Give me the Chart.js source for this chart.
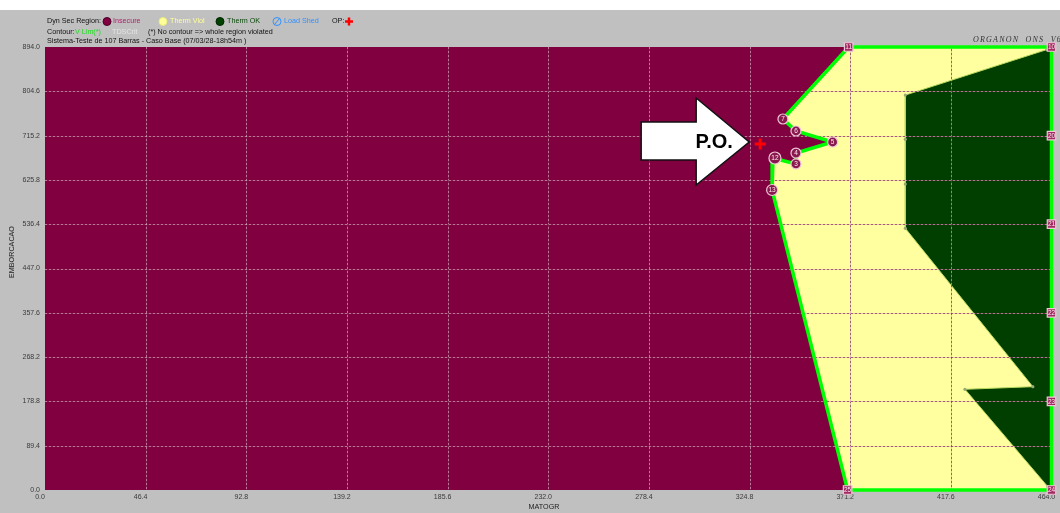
<!DOCTYPE html>
<html>
<head>
<meta charset="utf-8">
<title>Dyn Sec Region</title>
<script src="https://cdn.jsdelivr.net/npm/chart.js@4.4.1/dist/chart.umd.min.js"></script>
<style>
  html, body { margin: 0; padding: 0; background: #fff; }
  #wrap { width: 1060px; height: 513px; }
</style>
</head>
<body>
<div id="wrap"><canvas id="grafico" width="1060" height="513"></canvas></div>
<script>
// valores dos eixos
const xTicks = [0.0, 46.4, 92.8, 139.2, 185.6, 232.0, 278.4, 324.8, 371.2, 417.6, 464.0];
const yTicks = [0.0, 89.4, 178.8, 268.2, 357.6, 447.0, 536.4, 625.8, 715.2, 804.6, 894.0];

// contorno da regiao segura (Therm Viol), limite V Lim
const contornoX = [370.5, 340.2, 346.2, 363.1, 346.2, 346.2, 335.6, 335.2, 370.0, 464.0, 464.0, 370.5];
const contornoY = [894.0, 748.7, 724.5, 702.3, 680.0, 658.0, 670.0, 605.4, 0.0, 0.0, 894.0, 894.0];

// regiao Therm OK
const termOkX = [462.0, 396.6, 396.6, 396.6, 396.6, 455.4, 424.1, 462.3, 464.0, 464.0, 462.0];
const termOkY = [889.0, 797.0, 707.7, 617.5, 528.1, 208.5, 203.2, 6.7, 6.7, 891.0, 889.0];

// pontos numerados (circulos) no contorno
const numRotulos = ['7', '6', '5', '4', '3', '12', '13'];
const numX = [340.2, 346.2, 363.1, 346.2, 346.2, 336.5, 335.2];
const numY = [748.7, 724.5, 702.3, 680.0, 658.0, 670.0, 605.4];

// pontos numerados (quadrados) na borda
const bordaRotulos = ['11', '10', '20', '21', '22', '23', '24', '25'];
const bordaX = [370.5, 464.0, 464.0, 464.0, 464.0, 464.0, 464.0, 370.0];
const bordaY = [894.0, 894.0, 715.2, 536.4, 357.6, 178.8, 0.0, 0.0];

// ponto de operacao
const poX = [329.7];
const poY = [698.3];

const pares = (xs, ys) => xs.map((v, i) => ({ x: v, y: ys[i] }));

const FONTE = '"Liberation Sans", Arial, sans-serif';

// fundo cinza + area do grafico em vinho (Insecure)
const fundo = {
  id: 'fundo',
  beforeDraw(chart) {
    const { ctx, chartArea: a, width, height } = chart;
    ctx.save();
    ctx.fillStyle = '#c0c0c0';
    ctx.fillRect(0, 10, width, height - 10);
    ctx.fillStyle = '#800040';
    ctx.fillRect(a.left, a.top, a.right - a.left, a.bottom - a.top);
    ctx.restore();
  }
};

// grade pontilhada por cima das regioes
const grade = {
  id: 'grade',
  afterDatasetDraw(chart, args) {
    if (args.index !== 1) return;
    const { ctx, chartArea: a, scales: { x, y } } = chart;
    ctx.save();
    ctx.lineWidth = 1;
    const linha = (x1, y1, x2, y2) => {
      ctx.setLineDash([2, 2]);
      ctx.lineDashOffset = 0;
      ctx.strokeStyle = 'rgba(220,165,190,0.7)';
      ctx.beginPath(); ctx.moveTo(x1, y1); ctx.lineTo(x2, y2); ctx.stroke();
      ctx.lineDashOffset = 2;
      ctx.strokeStyle = 'rgba(130,45,85,0.75)';
      ctx.beginPath(); ctx.moveTo(x1, y1); ctx.lineTo(x2, y2); ctx.stroke();
    };
    xTicks.slice(1, -1).forEach(v => {
      const px = Math.round(x.getPixelForValue(v)) + 0.5;
      linha(px, a.top, px, a.bottom);
    });
    yTicks.slice(1, -1).forEach(v => {
      const py = Math.round(y.getPixelForValue(v)) + 0.5;
      linha(a.left, py, a.right, py);
    });
    ctx.restore();
  }
};

// rotulos dos pontos, seta do P.O. e cabecalho
const textos = {
  id: 'textos',
  afterDatasetsDraw(chart) {
    const { ctx, scales: { x, y } } = chart;
    ctx.save();
    ctx.textAlign = 'center';
    ctx.textBaseline = 'middle';
    ctx.font = '6.5px ' + FONTE;
    ctx.fillStyle = '#ffe8f0';
    chart.getDatasetMeta(3).data.forEach((p, i) => ctx.fillText(numRotulos[i], p.x, p.y + 0.5));
    chart.getDatasetMeta(4).data.forEach((p, i) => ctx.fillText(bordaRotulos[i], p.x, p.y + 0.5));

    // seta P.O.
    const tx = x.getPixelForValue(poX[0]) - 11;
    const ty = y.getPixelForValue(poY[0]) - 2;
    ctx.beginPath();
    ctx.moveTo(tx, ty);
    ctx.lineTo(tx - 53, ty - 44);
    ctx.lineTo(tx - 53, ty - 20);
    ctx.lineTo(tx - 108, ty - 20);
    ctx.lineTo(tx - 108, ty + 18);
    ctx.lineTo(tx - 53, ty + 18);
    ctx.lineTo(tx - 53, ty + 43);
    ctx.closePath();
    ctx.fillStyle = '#ffffff';
    ctx.fill();
    ctx.lineWidth = 1.5;
    ctx.strokeStyle = '#111';
    ctx.stroke();
    ctx.fillStyle = '#000';
    ctx.font = 'bold 20px ' + FONTE;
    ctx.fillText('P.O.', tx - 35, ty + 1);
    ctx.restore();
  },
  afterDraw(chart) {
    const { ctx } = chart;
    ctx.save();
    ctx.textBaseline = 'middle';
    ctx.textAlign = 'left';
    ctx.font = '7.2px ' + FONTE;
    const txt = (s, px, py, cor) => { ctx.fillStyle = cor; ctx.fillText(s, px, py); };
    const bola = (px, py, cor, borda) => {
      ctx.beginPath(); ctx.arc(px, py, 4, 0, Math.PI * 2);
      ctx.fillStyle = cor; ctx.fill();
      ctx.lineWidth = 1; ctx.strokeStyle = borda; ctx.stroke();
    };
    // linha 1 - legenda
    txt('Dyn Sec Region:', 47, 21.5, '#111');
    bola(107, 21.5, '#800040', '#500028');
    txt('Insecure', 113, 21.5, '#b0206a');
    bola(163, 21.5, '#ffff99', '#e8e880');
    txt('Therm Viol', 170, 21.5, '#ffff99');
    bola(220, 21.5, '#004000', '#002800');
    txt('Therm OK', 227, 21.5, '#0a4a0a');
    ctx.beginPath(); ctx.arc(277, 21.5, 4, 0, Math.PI * 2);
    ctx.lineWidth = 1; ctx.strokeStyle = '#3090ff'; ctx.stroke();
    ctx.beginPath(); ctx.moveTo(274.5, 24.5); ctx.lineTo(279.5, 18.5); ctx.stroke();
    txt('Load Shed', 284, 21.5, '#3090ff');
    txt('OP:', 332, 21.5, '#111');
    ctx.lineWidth = 2.5; ctx.strokeStyle = '#ff0000';
    ctx.beginPath();
    ctx.moveTo(349, 17.5); ctx.lineTo(349, 25.5);
    ctx.moveTo(345, 21.5); ctx.lineTo(353, 21.5);
    ctx.stroke();
    // linha 2
    txt('Contour:', 47, 32.5, '#111');
    txt('V Lim(*)', 75, 32.5, '#22dd22');
    txt('TDSCrit', 112, 32.5, '#e4e4e4');
    txt('(*) No contour => whole region violated', 148, 32.5, '#111');
    // linha 3
    txt('Sistema-Teste de 107 Barras - Caso Base (07/03/28-18h54m )', 47, 41.5, '#111');
    // assinatura
    ctx.font = 'italic 8px "Liberation Serif", serif';
    ctx.letterSpacing = '1.2px';
    txt('ORGANON  ONS  V6.', 973, 39.5, '#333');
    ctx.letterSpacing = '0px';
    // titulos dos eixos
    ctx.font = '7.2px ' + FONTE;
    ctx.textAlign = 'center';
    txt('MATOGR', 544, 507.5, '#222');
    ctx.translate(12, 252);
    ctx.rotate(-Math.PI / 2);
    txt('EMBORCACAO', 0, 0, '#222');
    ctx.restore();
  }
};

const ctx = document.getElementById('grafico').getContext('2d');
new Chart(ctx, {
  type: 'scatter',
  data: {
    datasets: [
      {
        // Therm Viol (amarelo)
        data: pares(contornoX, contornoY),
        showLine: true,
        fill: 'shape',
        backgroundColor: '#ffffa0',
        borderWidth: 0,
        pointRadius: 0,
        order: 10
      },
      {
        // Therm OK (verde escuro)
        data: pares(termOkX, termOkY),
        showLine: true,
        fill: 'shape',
        backgroundColor: '#003f00',
        borderColor: '#b8d860',
        borderWidth: 1,
        pointRadius: 1.6,
        pointBackgroundColor: '#98a878',
        pointBorderWidth: 0,
        order: 9
      },
      {
        // contorno V Lim
        data: pares(contornoX, contornoY),
        showLine: true,
        fill: false,
        borderColor: '#00ff00',
        borderWidth: 3.5,
        pointRadius: 0,
        clip: false,
        order: 8
      },
      {
        data: pares(numX, numY),
        pointStyle: 'circle',
        pointRadius: [5, 5, 5, 5, 5, 6, 5.5],
        backgroundColor: '#8a1a4e',
        borderColor: '#f0c8d8',
        borderWidth: 1.2,
        clip: false,
        order: 3
      },
      {
        data: pares(bordaX, bordaY),
        pointStyle: 'rect',
        pointRadius: 6,
        backgroundColor: '#a02a62',
        borderColor: '#f0c8d8',
        borderWidth: 1.2,
        clip: false,
        order: 2
      },
      {
        // ponto de operacao
        data: pares(poX, poY),
        pointStyle: 'cross',
        pointRadius: 5.5,
        borderColor: '#ff0000',
        borderWidth: 3,
        clip: false,
        order: 1
      }
    ]
  },
  options: {
    responsive: false,
    animation: false,
    devicePixelRatio: 1,
    events: [],
    layout: { padding: { top: 47, right: 3, left: 0, bottom: 0 } },
    plugins: {
      legend: { display: false },
      tooltip: { enabled: false }
    },
    scales: {
      x: {
        type: 'linear',
        min: 0,
        max: 464,
        afterBuildTicks: s => { s.ticks = xTicks.map(v => ({ value: v })); },
        afterFit: s => { s.height = 23; s.paddingLeft = 0; s.paddingRight = 0; },
        grid: { display: false, drawTicks: false, tickLength: 0 },
        border: { display: false },
        ticks: {
          font: { family: 'Liberation Sans', size: 7 },
          color: '#3a3a3a',
          padding: 3,
          labelOffset: -5,
          maxRotation: 0,
          autoSkip: false,
          callback: v => Number(v).toFixed(1)
        }
      },
      y: {
        type: 'linear',
        min: 0,
        max: 894,
        afterBuildTicks: s => { s.ticks = yTicks.map(v => ({ value: v })); },
        afterFit: s => { s.width = 45; s.paddingTop = 0; s.paddingBottom = 0; },
        grid: { display: false, drawTicks: false, tickLength: 0 },
        border: { display: false },
        ticks: {
          font: { family: 'Liberation Sans', size: 7 },
          color: '#3a3a3a',
          padding: 5,
          autoSkip: false,
          callback: v => Number(v).toFixed(1)
        }
      }
    }
  },
  plugins: [fundo, grade, textos]
});
</script>
</body>
</html>
